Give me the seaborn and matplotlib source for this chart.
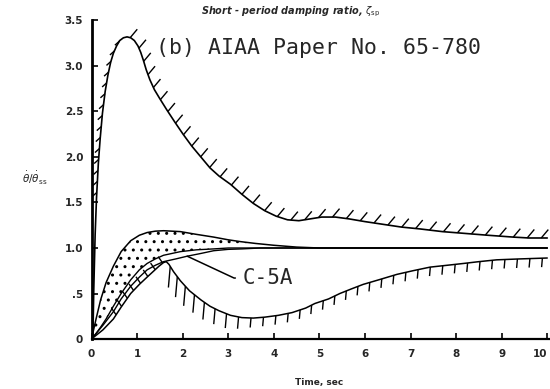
import numpy as np
import pandas as pd
import matplotlib
matplotlib.use("Agg")
import matplotlib.pyplot as plt
from matplotlib.collections import LineCollection
from matplotlib import font_manager
import seaborn as sns

# ---------------- data ----------------
# outer (upper) boundary, hashed on the outside
upper_t = [0.03, 0.05, 0.08, 0.11, 0.15, 0.19, 0.24, 0.30, 0.36, 0.42, 0.48, 0.55, 0.62,
           0.70, 0.78, 0.86, 0.94, 1.02, 1.08, 1.14, 1.20, 1.28, 1.38, 1.50, 1.65, 1.82,
           2.01, 2.20, 2.40, 2.60, 2.80, 3.05, 3.30, 3.55, 3.80, 4.05, 4.30, 4.55, 4.80,
           5.05, 5.35, 5.65, 6.00, 6.40, 6.80, 7.20, 7.70, 8.20, 8.70, 9.25, 9.60, 10.0]
upper_y = [0.00, 0.55, 1.15, 1.55, 1.93, 2.20, 2.48, 2.72, 2.90, 3.04, 3.14, 3.22, 3.28,
           3.31, 3.32, 3.31, 3.28, 3.22, 3.15, 3.06, 2.96, 2.85, 2.74, 2.64, 2.52, 2.39,
           2.25, 2.12, 2.00, 1.88, 1.79, 1.70, 1.59, 1.49, 1.41, 1.35, 1.31, 1.30, 1.32,
           1.34, 1.34, 1.32, 1.29, 1.26, 1.23, 1.21, 1.18, 1.16, 1.14, 1.12, 1.11, 1.11]

# lower boundary, hashed below
lower_t = [0.0, 0.25, 0.48, 0.65, 0.86, 1.05, 1.22, 1.35, 1.48, 1.58, 1.64, 1.70, 1.80,
           1.95, 2.15, 2.40, 2.60, 2.80, 3.05, 3.30, 3.55, 3.80, 4.10, 4.40, 4.70, 4.90,
           5.20, 5.45, 5.70, 5.96, 6.30, 6.70, 7.05, 7.43, 7.80, 8.16, 8.50, 8.89, 9.40, 10.0]
lower_y = [0.0, 0.10, 0.22, 0.35, 0.50, 0.60, 0.68, 0.74, 0.80, 0.84, 0.85, 0.82, 0.74,
           0.64, 0.53, 0.43, 0.36, 0.31, 0.26, 0.235, 0.23, 0.24, 0.26, 0.29, 0.34, 0.39,
           0.44, 0.50, 0.55, 0.60, 0.65, 0.71, 0.75, 0.79, 0.81, 0.83, 0.85, 0.87, 0.88, 0.89]

# stippled band
band_t = [0.0, 0.1, 0.2, 0.32, 0.48, 0.65, 0.86, 1.05, 1.22, 1.4, 1.58, 1.95, 2.3, 2.68,
          3.0, 3.27, 3.6, 4.0, 4.5, 5.0, 6.0, 8.0, 10.0]
band_hi = [0.0, 0.22, 0.43, 0.62, 0.80, 0.96, 1.08, 1.14, 1.17, 1.185, 1.19, 1.18, 1.15,
           1.12, 1.09, 1.07, 1.05, 1.03, 1.01, 1.0, 1.0, 1.0, 1.0]
band_lo = [0.0, 0.06, 0.13, 0.22, 0.36, 0.50, 0.65, 0.76, 0.83, 0.88, 0.92, 0.96, 0.98,
           0.99, 1.0, 1.0, 1.0, 1.0, 1.0, 1.0, 1.0, 1.0, 1.0]

# C-5A response
c5a_t = [0.0, 0.25, 0.48, 0.65, 0.86, 1.05, 1.22, 1.40, 1.58, 1.85, 2.10, 2.40, 2.68,
         3.00, 3.30, 3.70, 4.00, 5.00, 10.0]
c5a_y = [0.0, 0.15, 0.30, 0.44, 0.58, 0.68, 0.76, 0.81, 0.85, 0.88, 0.91, 0.94, 0.97,
         0.985, 0.99, 1.0, 1.0, 1.0, 1.0]

x_ticks = [0, 1, 2, 3, 4, 5, 6, 7, 8, 9, 10]
x_tick_labels = ["0", "1", "2", "3", "4", "5", "6", "7", "8", "9", "10"]
y_ticks = [0, 0.5, 1.0, 1.5, 2.0, 2.5, 3.0, 3.5]
y_tick_labels = ["0", ".5", "1.0", "1.5", "2.0", "2.5", "3.0", "3.5"]

# ---------------- figure ----------------
sns.set_style("ticks")
names = {f.name for f in font_manager.fontManager.ttflist}
tick_family = "Liberation Sans Narrow" if "Liberation Sans Narrow" in names else "DejaVu Sans"
plt.rcParams["font.family"] = ["DejaVu Sans"]
plt.rcParams["hatch.linewidth"] = 1.0

W, H = 550, 389
fig = plt.figure(figsize=(W / 100, H / 100), dpi=100)
left, right, top, bottom = 91.5, 550, 20.5, 339
ax = fig.add_axes([left / W, 1 - bottom / H, (right - left) / W, (bottom - top) / H])
ax.set_xlim(0, 10.06)
ax.set_ylim(0, 3.5)

df_up = pd.DataFrame({"t": upper_t, "y": upper_y})
df_lo = pd.DataFrame({"t": lower_t, "y": lower_y})
df_c5 = pd.DataFrame({"t": c5a_t, "y": c5a_y})
df_bh = pd.DataFrame({"t": band_t, "y": band_hi})
df_bl = pd.DataFrame({"t": band_t, "y": band_lo})

ax.fill_between(band_t, band_lo, band_hi, facecolor="none", edgecolor="black",
                hatch="..", linewidth=0)
for d, lw in [(df_up, 1.2), (df_lo, 1.1), (df_c5, 1.0), (df_bh, 1.1), (df_bl, 1.0)]:
    sns.lineplot(data=d, x="t", y="y", ax=ax, color="black", linewidth=lw,
                 sort=False, estimator=None)


def hashes(ax, xs, ys, ang_deg, length, spacing, lw=1.0, steep_gain=0.0):
    """Short hatch strokes along a curve, fixed screen direction (decoration)."""
    pts = ax.transData.transform(np.column_stack([xs, ys]))
    seg = np.diff(pts, axis=0)
    seglen = np.hypot(seg[:, 0], seg[:, 1])
    cum = np.concatenate([[0], np.cumsum(seglen)])
    s = np.arange(spacing / 2, cum[-1], spacing)
    px = np.interp(s, cum, pts[:, 0])
    py = np.interp(s, cum, pts[:, 1])
    k = np.clip(np.searchsorted(cum, s) - 1, 0, len(seg) - 1)
    sin_t = seg[k, 1] / np.maximum(seglen[k], 1e-9)
    lens = length * (1 + steep_gain * np.clip(-sin_t, 0, None))
    u = np.array([np.cos(np.radians(ang_deg)), np.sin(np.radians(ang_deg))])
    inv = ax.transData.inverted()
    segs = []
    for a, b, L in zip(px, py, lens):
        p0 = np.array([a, b])
        segs.append(inv.transform(np.vstack([p0, p0 + u * L])))
    ax.add_collection(LineCollection(segs, colors="black", linewidths=lw))


ut, uy = np.array(upper_t), np.array(upper_y)
pk = int(np.argmax(uy))
idx = np.arange(len(uy))
m_left = (uy >= 1.5) & (idx <= pk)
hashes(ax, ut[m_left], uy[m_left], 222, 6, 11, 1.0)
hashes(ax, ut[pk - 1:], uy[pk - 1:], 50, 11, 14, 1.0)

lt, ly = np.array(lower_t), np.array(lower_y)
lp = int(np.argmax(np.where(lt < 2, ly, -1)))
hashes(ax, lt[2:lp + 1], ly[2:lp + 1], 125, 8, 10, 1.0)
hashes(ax, lt[lp:], ly[lp:], 265, 9, 12.5, 1.0, steep_gain=1.6)

# labels and annotations
ax.annotate("C-5A", xy=(2.1, 0.91), xytext=(3.32, 0.67), textcoords="data",
            family="DejaVu Sans Mono", fontsize=15, ha="left", va="center",
            arrowprops=dict(arrowstyle="-", color="black", lw=1.1, shrinkA=3, shrinkB=0,
                            connectionstyle="angle,angleA=0,angleB=-25,rad=0"))
fig.text(156 / W, 1 - 48 / H, "(b) AIAA Paper No. 65-780", family="DejaVu Sans Mono",
         fontsize=15.5, ha="left", va="center")
fig.text(291 / W, 1 - 12 / H, r"Short - period damping ratio, $\zeta_{\rm sp}$",
         fontsize=7, fontweight="bold", style="italic", ha="center", va="center")
fig.text(47 / W, 1 - 178 / H, r"$\dot{\theta}/\dot{\theta}_{\rm ss}$", fontsize=7.5,
         fontweight="bold", ha="right", va="center")
fig.text(319 / W, 1 - 382 / H, "Time, sec", fontsize=6.5, fontweight="bold",
         ha="center", va="center")

ax.set_xticks(x_ticks)
ax.set_xticklabels(x_tick_labels, family=tick_family, fontweight="bold", fontsize=7.5)
ax.get_xticklabels()[-1].set_horizontalalignment("right")
ax.set_yticks(y_ticks)
ax.set_yticklabels(y_tick_labels, family=tick_family, fontweight="bold", fontsize=7.5)
ax.set_xlabel("")
ax.set_ylabel("")
ax.tick_params(axis="x", direction="in", length=4, width=1.2, pad=7, color="black")
ax.tick_params(axis="y", direction="in", length=4, width=1.2, pad=6, color="black")
sns.despine(ax=ax, top=True, right=True)
ax.spines["left"].set_linewidth(2.0)
ax.spines["bottom"].set_linewidth(1.6)
ax.spines["left"].set_color("black")
ax.spines["bottom"].set_color("black")
ax.patch.set_alpha(0)

fig.savefig("out.png", dpi=100)
